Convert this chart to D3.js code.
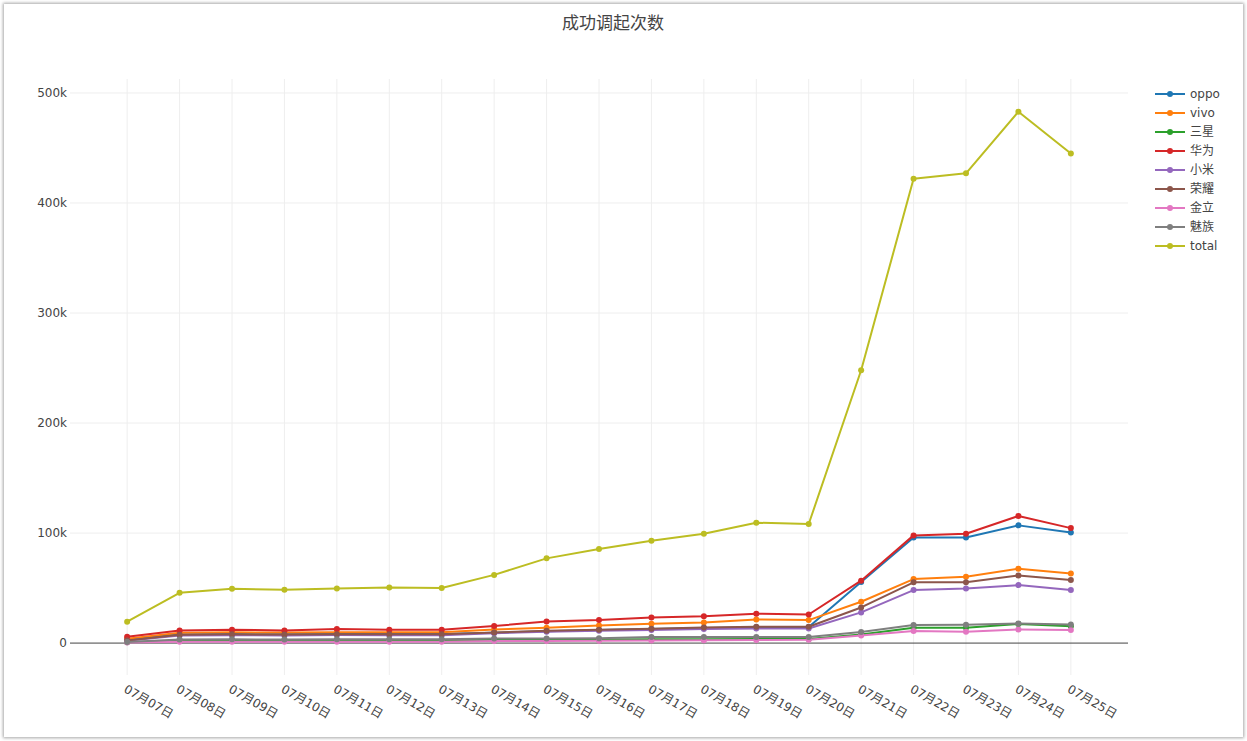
<!DOCTYPE html>
<html>
<head>
<meta charset="utf-8">
<script src="https://cdn.jsdelivr.net/npm/d3@7"></script>
<style>
  body { margin: 0; background: #fff; }
  #frame {
    position: absolute; left: 4px; top: 4px; width: 1239px; height: 733px;
    background: #fff; box-shadow: 0 0 3px 1px rgba(0,0,0,0.35);
  }
  svg { position: absolute; left: -4px; top: -4px; font-family: "DejaVu Sans", verdana, "Noto Sans CJK SC", sans-serif; }
</style>
</head>
<body>
<div id="frame"><svg width="1247" height="741"></svg></div>
<script>
'use strict';
var dates = ['07月07日', '07月08日', '07月09日', '07月10日', '07月11日', '07月12日', '07月13日',
  '07月14日', '07月15日', '07月16日', '07月17日', '07月18日', '07月19日', '07月20日',
  '07月21日', '07月22日', '07月23日', '07月24日', '07月25日'];
var names = ['oppo', 'vivo', '三星', '华为', '小米', '荣耀', '金立', '魅族', 'total'];
var colors = ['#1f77b4', '#ff7f0e', '#2ca02c', '#d62728', '#9467bd', '#8c564b', '#e377c2', '#7f7f7f', '#bcbd22'];

var oppo = [3200, 7800, 8200, 8000, 8300, 8200, 8200, 9500, 10800, 11800, 12700, 13800, 14500, 14600, 55500, 96000, 96000, 107000, 100600];
var vivo = [4000, 9500, 9800, 9600, 9900, 9800, 9800, 12400, 13900, 16100, 17600, 18800, 21500, 20900, 37600, 58200, 60300, 67600, 63300];
var sanxing = [800, 2400, 2500, 2500, 2600, 2500, 2500, 2900, 3000, 3200, 3400, 3600, 3800, 3800, 7900, 13900, 13900, 17300, 15200];
var huawei = [5800, 11500, 12100, 11500, 12700, 12100, 12100, 15500, 19700, 20900, 23300, 24300, 26700, 26000, 56700, 97900, 99400, 115500, 104500];
var xiaomi = [2200, 6800, 7200, 7000, 7300, 7200, 7200, 9000, 10300, 11200, 12000, 12800, 13300, 13300, 27900, 48200, 49700, 52700, 48200];
var rongyao = [2400, 7600, 8000, 7800, 8100, 8000, 8000, 9700, 11200, 12100, 13000, 14200, 14800, 14800, 32400, 55200, 55200, 61500, 57300];
var jinli = [500, 1200, 1300, 1200, 1300, 1300, 1300, 1800, 2000, 2200, 2400, 2600, 2800, 3000, 7000, 10900, 10300, 12400, 11800];
var meizu = [900, 3300, 3400, 3300, 3400, 3400, 3400, 4200, 4200, 4500, 5500, 5500, 5500, 5500, 10000, 16400, 16700, 17900, 17000];
var total = [19400, 45700, 49400, 48500, 49700, 50600, 50000, 62000, 77000, 85500, 93000, 99400, 109400, 108200, 248000, 422000, 427000, 483000, 445000];
var yTicks = [0, 100000, 200000, 300000, 400000, 500000];
var yTickLabels = ['0', '100k', '200k', '300k', '400k', '500k'];

var seriesValues = [oppo, vivo, sanxing, huawei, xiaomi, rongyao, jinli, meizu, total];
var series = names.map((n, i) => ({ name: n, color: colors[i], values: seriesValues[i] }));

var svg = d3.select('svg');
var plot = { left: 70, right: 1128, top: 79, bottom: 675 };

var x = d3.scaleLinear().domain([-1.09, dates.length - 1 + 1.09]).range([plot.left, plot.right]);
var y = d3.scaleLinear().domain([-29000, 512700]).range([plot.bottom, plot.top]);

// title
svg.append('text')
  .attr('x', 613).attr('y', 29)
  .attr('text-anchor', 'middle')
  .style('font-size', '17px').style('fill', '#444')
  .text('成功调起次数');

// grid
var grid = svg.append('g');
grid.selectAll('line.vg').data(dates).enter().append('line')
  .attr('x1', (d, i) => x(i)).attr('x2', (d, i) => x(i))
  .attr('y1', plot.top).attr('y2', plot.bottom)
  .attr('stroke', '#eee').attr('stroke-width', 1);
grid.selectAll('line.hg').data(yTicks.slice(1)).enter().append('line')
  .attr('x1', plot.left).attr('x2', plot.right)
  .attr('y1', d => y(d)).attr('y2', d => y(d))
  .attr('stroke', '#eee').attr('stroke-width', 1);
svg.append('line')
  .attr('x1', plot.left).attr('x2', plot.right)
  .attr('y1', y(0)).attr('y2', y(0))
  .attr('stroke', '#444').attr('stroke-width', 1);

// y axis labels
svg.append('g').selectAll('text').data(yTicks).enter().append('text')
  .attr('x', plot.left - 3).attr('y', d => y(d))
  .attr('dy', '0.35em')
  .attr('text-anchor', 'end')
  .style('font-size', '12px').style('fill', '#444')
  .text((d, i) => yTickLabels[i]);

// x axis labels
svg.append('g').selectAll('text').data(dates).enter().append('text')
  .attr('transform', (d, i) => `translate(${x(i)},${plot.bottom + 9}) rotate(30)`)
  .attr('dy', '0.71em')
  .attr('text-anchor', 'start')
  .style('font-size', '12px').style('fill', '#444')
  .text(d => d);

// lines
var line = d3.line().x((d, i) => x(i)).y(d => y(d));
var g = svg.append('g');
series.forEach(s => {
  var sg = g.append('g');
  sg.append('path')
    .attr('d', line(s.values))
    .attr('fill', 'none')
    .attr('stroke', s.color)
    .attr('stroke-width', 2)
    .attr('stroke-linejoin', 'round');
  sg.selectAll('circle').data(s.values).enter().append('circle')
    .attr('cx', (d, i) => x(i)).attr('cy', d => y(d))
    .attr('r', 3).attr('fill', s.color);
});

// legend
var legend = svg.append('g').attr('transform', 'translate(1155,94)');
var items = legend.selectAll('g').data(series).enter().append('g')
  .attr('transform', (d, i) => `translate(0,${i * 19})`);
items.append('line')
  .attr('x1', 0).attr('x2', 30)
  .attr('stroke', d => d.color).attr('stroke-width', 2);
items.append('circle')
  .attr('cx', 15).attr('r', 3).attr('fill', d => d.color);
items.append('text')
  .attr('x', 35).attr('dy', '0.35em')
  .style('font-size', '12px').style('fill', '#444')
  .text(d => d.name);
</script>
</body>
</html>
